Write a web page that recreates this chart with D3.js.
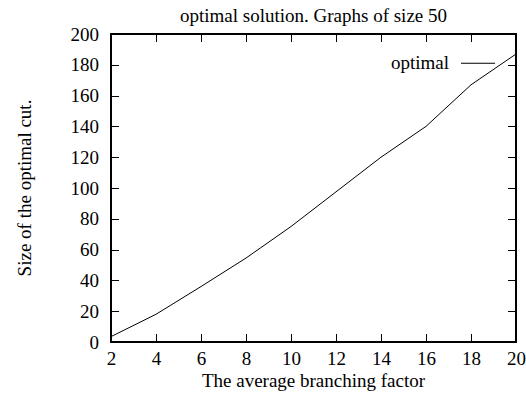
<!DOCTYPE html>
<html>
<head>
<meta charset="utf-8">
<script src="https://cdn.jsdelivr.net/npm/d3@7"></script>
<style>
  body { margin: 0; background: #fff; }
  text { font-family: "Liberation Serif", "Times New Roman", serif; fill: #000; }
</style>
</head>
<body>
<div id="chart"></div>
<script>
// Data
const branching = [2, 4, 6, 8, 10, 12, 14, 16, 18, 20];
const optimalCut = [3.5, 18, 36, 54.5, 75, 97.5, 120, 140, 167, 187];
const xTicks = [2, 4, 6, 8, 10, 12, 14, 16, 18, 20];
const yTicks = [0, 20, 40, 60, 80, 100, 120, 140, 160, 180, 200];

const width = 526, height = 394;
const margin = { top: 34, right: 10, bottom: 52, left: 111 };
const innerW = width - margin.left - margin.right;
const innerH = height - margin.top - margin.bottom;

const svg = d3.select('#chart').append('svg')
  .attr('width', width)
  .attr('height', height);

const g = svg.append('g')
  .attr('transform', `translate(${margin.left},${margin.top})`);

const x = d3.scaleLinear().domain([2, 20]).range([0, innerW]);
const y = d3.scaleLinear().domain([0, 200]).range([innerH, 0]);

const tickLen = 8;

// Axes: gnuplot style, ticks pointing inward and mirrored
const xAxis = d3.axisBottom(x).tickValues(xTicks).tickSize(-tickLen).tickSizeOuter(0).tickPadding(10);
const xAxisTop = d3.axisTop(x).tickValues(xTicks).tickSize(-tickLen).tickSizeOuter(0).tickFormat('');
const yAxis = d3.axisLeft(y).tickValues(yTicks).tickSize(-tickLen).tickSizeOuter(0).tickPadding(12);
const yAxisRight = d3.axisRight(y).tickValues(yTicks).tickSize(-tickLen).tickSizeOuter(0).tickFormat('');

function styleAxis(sel) {
  sel.select('.domain').remove();
  sel.selectAll('line').attr('stroke', '#000').attr('shape-rendering', 'crispEdges');
  sel.selectAll('text').attr('font-size', 19);
}

g.append('g').attr('transform', `translate(0,${innerH})`).call(xAxis).call(styleAxis);
g.append('g').call(xAxisTop).call(styleAxis);
g.append('g').call(yAxis).call(styleAxis);
g.append('g').attr('transform', `translate(${innerW},0)`).call(yAxisRight).call(styleAxis);

// frame
g.append('rect')
  .attr('width', innerW)
  .attr('height', innerH)
  .attr('fill', 'none')
  .attr('stroke', '#000')
  .attr('stroke-width', 1.5)
  .attr('shape-rendering', 'crispEdges');

// the series
const line = d3.line()
  .x((d, i) => x(branching[i]))
  .y(d => y(d));

g.append('path')
  .datum(optimalCut)
  .attr('fill', 'none')
  .attr('stroke', '#000')
  .attr('stroke-width', 1)
  .attr('d', line);

// legend
const legend = g.append('g').attr('transform', `translate(${innerW - 55},${y(181)})`);
legend.append('text')
  .attr('x', -12)
  .attr('dy', '0.32em')
  .attr('text-anchor', 'end')
  .attr('font-size', 19)
  .text('optimal');
legend.append('line')
  .attr('x1', 0).attr('x2', 34)
  .attr('stroke', '#000');

// title and axis labels
svg.append('text')
  .attr('x', margin.left + innerW / 2)
  .attr('y', 22)
  .attr('text-anchor', 'middle')
  .attr('font-size', 19)
  .text('optimal solution. Graphs of size 50');

svg.append('text')
  .attr('x', margin.left + innerW / 2)
  .attr('y', 387)
  .attr('text-anchor', 'middle')
  .attr('font-size', 19)
  .text('The average branching factor');

svg.append('text')
  .attr('transform', `translate(31,${margin.top + innerH / 2}) rotate(-90)`)
  .attr('text-anchor', 'middle')
  .attr('font-size', 19)
  .text('Size of the optimal cut.');
</script>
</body>
</html>
